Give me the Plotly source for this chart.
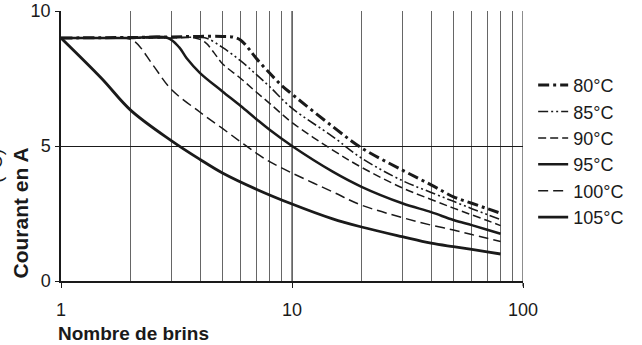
import plotly.graph_objects as go

# Courant admissible en fonction du nombre de brins, par température
brins_80 = [1, 2, 3, 4, 5, 5.6, 6, 6.5, 7, 8, 9, 10, 15, 20, 30, 40, 50, 60, 70, 80]
courant_80 = [9.0, 9.02, 9.04, 9.06, 9.06, 9.03, 8.92, 8.6, 8.25, 7.7, 7.25, 6.92, 5.72, 4.93, 4.11, 3.56, 3.12, 2.88, 2.68, 2.51]

brins_85 = [1, 2, 3, 4, 4.3, 5, 6, 7, 8, 10, 15, 20, 30, 40, 50, 60, 70, 80]
courant_85 = [9.0, 9.0, 9.02, 9.02, 8.98, 8.65, 8.15, 7.65, 7.2, 6.4, 5.35, 4.55, 3.72, 3.28, 2.95, 2.68, 2.46, 2.27]

brins_90 = [1, 2, 3, 3.8, 4.2, 4.6, 5, 6, 7, 8, 10, 15, 20, 30, 40, 50, 60, 70, 80]
courant_90 = [9.0, 9.0, 9.0, 9.0, 8.85, 8.45, 8.05, 7.5, 7.0, 6.58, 5.87, 4.85, 4.21, 3.45, 3.02, 2.7, 2.45, 2.24, 2.05]

brins_95 = [1, 2, 2.9, 3.25, 3.5, 4, 5, 6, 7, 8, 10, 15, 20, 30, 40, 50, 60, 70, 80]
courant_95 = [9.0, 9.0, 9.0, 8.65, 8.25, 7.7, 7.02, 6.48, 6.0, 5.6, 5.0, 4.05, 3.49, 2.88, 2.55, 2.26, 2.07, 1.9, 1.75]

brins_100 = [1, 1.5, 1.9, 2.1, 2.5, 3, 4, 5, 6, 7, 8, 10, 15, 20, 30, 40, 50, 60, 70, 80]
courant_100 = [9.0, 9.0, 9.0, 8.85, 8.0, 7.1, 6.25, 5.65, 5.15, 4.74, 4.42, 4.0, 3.3, 2.81, 2.35, 2.07, 1.89, 1.72, 1.58, 1.46]

brins_105 = [1, 1.5, 2, 3, 4, 5, 7, 10, 15, 20, 30, 40, 50, 60, 70, 80]
courant_105 = [9.0, 7.5, 6.33, 5.2, 4.5, 4.0, 3.4, 2.85, 2.3, 2.0, 1.64, 1.40, 1.27, 1.17, 1.08, 1.0]

noms = ["80°C", "85°C", "90°C", "95°C", "100°C", "105°C"]
x_ticks = [1, 10, 100]
y_ticks = [0, 5, 10]

series = [
    (brins_80, courant_80, 3.0, "11px,4px,3px,4px"),
    (brins_85, courant_85, 1.6, "10px,3px,2px,3px,2px,3px"),
    (brins_90, courant_90, 1.5, "8px,4px"),
    (brins_95, courant_95, 2.5, "solid"),
    (brins_100, courant_100, 1.5, "10px,5px"),
    (brins_105, courant_105, 2.8, "solid"),
]

FONT = "Liberation Sans, Arial, sans-serif"
INK = "#1a1a1a"

fig = go.Figure()
for nom, (xs, ys, w, dash) in zip(noms, series):
    fig.add_trace(go.Scatter(
        x=xs, y=ys, name=nom, mode="lines",
        line=dict(color=INK, width=w, dash=dash, shape="spline", smoothing=1.0),
    ))

fig.update_layout(
    width=642, height=345,
    margin=dict(l=61, r=119, t=11, b=64, autoexpand=False),
    paper_bgcolor="white", plot_bgcolor="white",
    font=dict(family=FONT, size=18, color=INK),
    showlegend=True,
    legend=dict(
        x=1.022, y=0.793, xanchor="left", yanchor="top",
        font=dict(size=18, color=INK),
        bgcolor="rgba(0,0,0,0)",
        itemwidth=30,
    ),
)

fig.update_xaxes(
    type="log", range=[0, 2], automargin=False,
    tickvals=x_ticks, ticktext=[str(v) for v in x_ticks],
    showgrid=False,
    minor=dict(showgrid=True, gridcolor="#666666", gridwidth=1,
               dtick="D1", ticks=""),
    showline=True, linecolor=INK, linewidth=1.5, mirror=False,
    ticks="outside", ticklen=5, tickcolor=INK,
    ticklabelstandoff=7, zeroline=False,
)
fig.update_yaxes(
    range=[0, 10], tickvals=y_ticks, automargin=False,
    showgrid=True, gridcolor=INK, gridwidth=1,
    showline=True, linecolor=INK, linewidth=1.5,
    ticks="outside", ticklen=4, tickcolor=INK,
    ticklabelstandoff=1, zeroline=False,
)

# right border of the plot area and the major vertical grid lines
for xv in [10, 100]:
    fig.add_shape(type="line", xref="x", yref="paper", x0=xv, x1=xv, y0=0, y1=1,
                  line=dict(color=INK, width=1), layer="below")
fig.add_shape(type="line", xref="x", yref="paper", x0=100, x1=100, y0=-0.02, y1=0,
              line=dict(color=INK, width=1))

fig.add_annotation(text="<b>Nombre de brins</b>", xref="paper", yref="paper",
                   x=-5 / 462, y=-52 / 270, xanchor="left", yanchor="middle",
                   showarrow=False, font=dict(size=19, color=INK))
fig.add_annotation(text="<b>Courant en A</b>", xref="paper", yref="paper",
                   x=-41 / 462, y=0, xanchor="center", yanchor="bottom",
                   textangle=-90, showarrow=False, font=dict(size=21, color=INK))
fig.add_annotation(text="(°C)", xref="paper", yref="paper",
                   x=-66 / 462, y=115 / 270, xanchor="center", yanchor="middle",
                   textangle=-90, showarrow=False, font=dict(size=19, color=INK))

fig.write_html("out.html")
